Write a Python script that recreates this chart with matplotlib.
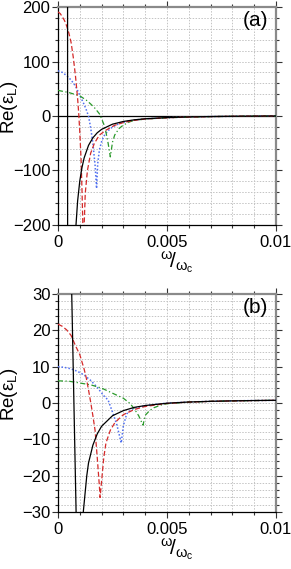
import matplotlib
matplotlib.use("Agg")
import matplotlib.pyplot as plt
from matplotlib.ticker import MultipleLocator, FixedLocator, FixedFormatter

plt.rcParams['font.family'] = ['Liberation Sans', 'DejaVu Sans']
plt.rcParams['mathtext.fontset'] = 'custom'
plt.rcParams['mathtext.rm'] = 'Liberation Sans'
plt.rcParams['mathtext.it'] = 'Liberation Sans:italic'

# ---------------- data: panel (a) ----------------
xa_black = [0, 0.0003, 0.00043, 0.00045, 0.0006, 0.00081, 0.0009, 0.001, 0.0011, 0.0012, 0.0014,
            0.0016, 0.0018, 0.002, 0.0025, 0.003, 0.0035, 0.004, 0.005, 0.006, 0.007, 0.008, 0.009, 0.01]
ya_black = [534, 934, 2000, -2000, -600, -209, -156, -119, -94.5, -76.8, -53.9,
            -40, -30.8, -24.5, -15, -10, -7, -5.1, -2.9, -1.7, -1.0, -0.5, -0.2, 0.03]

xa_red = [0, 0.0001, 0.0002, 0.0003, 0.0004, 0.0005, 0.0006, 0.0007, 0.0008, 0.0009, 0.00095, 0.001,
          0.00106, 0.0011, 0.00114, 0.00117, 0.0012, 0.00125, 0.00135, 0.0015, 0.00167, 0.0019, 0.0022,
          0.0026, 0.003, 0.0035, 0.004, 0.005, 0.006, 0.007, 0.008, 0.009, 0.01]
ya_red = [191, 188, 182, 175, 165, 152, 135, 108, 74, 32, 5, -30,
          -81, -135, -200, -260, -200, -142, -100, -68, -50, -35, -26,
          -17, -12, -8, -5.5, -3.2, -1.9, -1.1, -0.6, -0.25, 0]

xa_blue = [0, 0.0002, 0.0004, 0.0006, 0.0008, 0.001, 0.0012, 0.0013, 0.0014, 0.0015, 0.0016, 0.0017,
           0.00177, 0.00182, 0.0019, 0.002, 0.0021, 0.0023, 0.0025, 0.0028, 0.003, 0.0035, 0.004,
           0.005, 0.006, 0.007, 0.008, 0.009, 0.01]
ya_blue = [83, 80, 74, 66, 55, 38, 21, 11, 0, -22, -50, -90,
           -133, -88, -62, -47, -37, -27, -20, -14, -11.5, -7.5, -5.3,
           -3.1, -1.8, -1.05, -0.55, -0.2, 0]

xa_green = [0, 0.0005, 0.001, 0.0013, 0.0015, 0.0017, 0.0019, 0.002, 0.0021, 0.0022, 0.0023, 0.0024,
            0.0025, 0.0026, 0.0028, 0.003, 0.0033, 0.0035, 0.004, 0.005, 0.006, 0.007, 0.008, 0.009, 0.01]
ya_green = [47, 43, 37, 29, 22, 14, 4, -5, -15, -30, -50, -75,
            -48, -35, -23, -16.5, -10.5, -8, -5.5, -3.2, -1.9, -1.1, -0.6, -0.25, 0]

# ---------------- data: panel (b) ----------------
xb_black = [0, 0.0004, 0.00053, 0.00063, 0.00073, 0.00083, 0.0009, 0.001, 0.0011, 0.00116, 0.0012,
            0.00132, 0.0014, 0.0016, 0.0018, 0.002, 0.0025, 0.003, 0.0035, 0.004, 0.005, 0.006,
            0.007, 0.008, 0.009, 0.01]
yb_black = [55, 75, 60, 30, 0, -30, -50, -55, -40, -30, -27.5,
            -20, -16.5, -11.6, -8.5, -6.4, -3.5, -2.1, -1.2, -0.7, -0.06, 0.27,
            0.46, 0.59, 0.68, 0.74]

xb_red = [0, 0.0002, 0.0004, 0.0006, 0.0008, 0.001, 0.0012, 0.0013, 0.0014, 0.0015, 0.0016, 0.0017,
          0.0018, 0.0019, 0.00193, 0.002, 0.0021, 0.0022, 0.0024, 0.0026, 0.0028, 0.003, 0.0035,
          0.004, 0.005, 0.006, 0.007, 0.008, 0.009, 0.01]
yb_red = [21.7, 21.1, 20.1, 18.6, 15.8, 13.3, 9.3, 6.8, 3.6, 0.2, -3.5, -7.5,
          -15, -23, -26, -21.5, -15, -11, -7.5, -5.5, -4.3, -3.2, -1.8,
          -0.95, -0.12, 0.25, 0.45, 0.58, 0.67, 0.73]

xb_blue = [0, 0.0003, 0.0006, 0.0009, 0.0012, 0.0015, 0.0018, 0.0021, 0.0023, 0.0025, 0.0027, 0.0029,
           0.003, 0.00315, 0.0034, 0.0036, 0.004, 0.0045, 0.005, 0.006, 0.007, 0.008, 0.009, 0.01]
yb_blue = [10, 9.8, 9.4, 8.7, 7.7, 6.2, 4.3, 2.0, 0.8, -2.5, -6, -11,
           -6.2, -3, -1.7, -1.3, -0.75, -0.35, -0.05, 0.27, 0.46, 0.59, 0.68, 0.74]

xb_green = [0, 0.0005, 0.001, 0.0015, 0.002, 0.0025, 0.003, 0.0033, 0.0035, 0.0037, 0.0039, 0.004,
            0.0042, 0.0044, 0.0047, 0.005, 0.006, 0.007, 0.008, 0.009, 0.01]
yb_green = [6.1, 6.0, 5.5, 5.0, 4.1, 2.7, 1.3, -0.1, -1.6, -3.5, -6.1, -3.4,
            -2.1, -1.3, -0.6, -0.2, 0.25, 0.45, 0.58, 0.67, 0.74]

x_ticks = [0, 0.005, 0.01]
x_ticklabels = ['0', '0.005', '0.01']
panel_labels = ['(a)', '(b)']

W, H = 291, 569
fig = plt.figure(figsize=(W / 100, H / 100), dpi=100)


def px_axes(left, top, right, bottom):
    return fig.add_axes([left / W, 1 - bottom / H, (right - left) / W, (bottom - top) / H])


axA = px_axes(58, 7, 276, 225)
axB = px_axes(58, 294, 276, 512)

C_RED = '#d42a2a'
C_BLUE = '#4f6ff0'
C_GREEN = '#2a9a2a'


def style(ax, ylim, ymajor, yminor):
    ax.set_xlim(0, 0.01)
    ax.set_ylim(*ylim)
    ax.xaxis.set_major_locator(FixedLocator(x_ticks))
    ax.xaxis.set_major_formatter(FixedFormatter(x_ticklabels))
    ax.xaxis.set_minor_locator(MultipleLocator(0.001))
    ax.yaxis.set_major_locator(MultipleLocator(ymajor))
    ax.yaxis.set_minor_locator(MultipleLocator(yminor))
    ax.grid(which='both', color='#c4c4c4', lw=0.7, ls=(0, (1.5, 1.5)))
    ax.set_axisbelow(True)
    for s in ['left', 'bottom']:
        ax.spines[s].set_color('black')
        ax.spines[s].set_linewidth(0.9)
    for s in ['top', 'right']:
        ax.spines[s].set_color('#8a8a8a')
        ax.spines[s].set_linewidth(1.6)
    ax.tick_params(which='both', direction='out', top=True, right=True,
                   labeltop=False, labelright=False, width=0.8, color='#333333')
    ax.tick_params(which='major', length=4, labelsize=12)
    ax.tick_params(which='minor', length=2.5)
    ax.tick_params(axis='x', which='major', pad=3.5)
    ax.tick_params(axis='y', which='major', pad=1.5)


def plot_curves(ax, xs, ys):
    (xk, yk), (xr, yr), (xbl, ybl), (xg, yg) = zip(xs, ys)
    ax.plot(xk, yk, color='black', lw=0.9, zorder=5)
    ax.plot(xr, yr, color=C_RED, lw=0.9, ls=(0, (4, 2)), zorder=4)
    ax.plot(xbl, ybl, color=C_BLUE, lw=1.1, ls=(0, (1, 1.3)), zorder=3)
    ax.plot(xg, yg, color=C_GREEN, lw=0.9, ls=(0, (4, 2, 1, 2)), zorder=3)


style(axA, (-200, 200), 100, 20)
axA.axhline(0, color='black', lw=0.9, zorder=2)
plot_curves(axA, [xa_black, xa_red, xa_blue, xa_green], [ya_black, ya_red, ya_blue, ya_green])

style(axB, (-30, 30), 10, 2)
plot_curves(axB, [xb_black, xb_red, xb_blue, xb_green], [yb_black, yb_red, yb_blue, yb_green])


def ftext(x, y, s, **kw):
    fig.text(x / W, 1 - y / H, s, **kw)


xlabel_str = r'$\mathrm{{}^{\omega}\!/{}_{\omega_c}}$'

for off, lab in zip([0, 287], panel_labels):
    # y label
    ftext(9, 107 + off, 'Re(ε$_{\\mathrm{L}}$)', rotation=90, ha='center', va='center', fontsize=13.5)
    # x label  ω / ω_c (nice fraction)
    ftext(177, 262 + off, xlabel_str, ha='center', va='center', fontsize=15)
    # panel label
    ftext(268, 11 + off, lab, ha='right', va='top', fontsize=15)

fig.savefig('out.png', dpi=100)
